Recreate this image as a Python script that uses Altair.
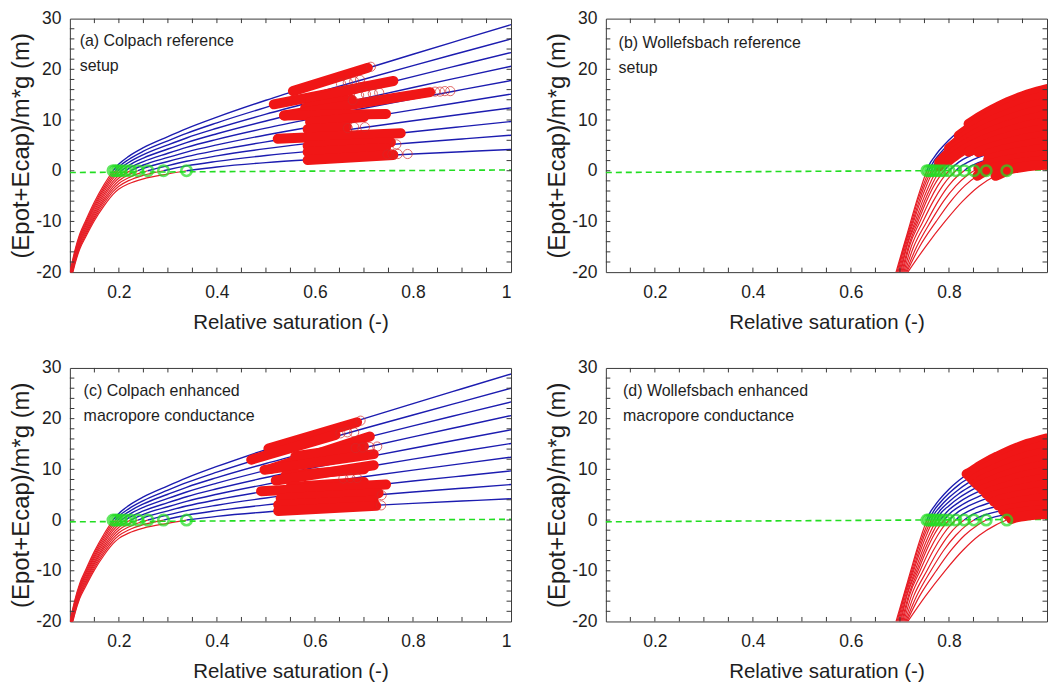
import altair as alt
import pandas as pd

# ---------------- Colpach: energy state curves (m) vs relative saturation ----------------
COL_S = [0.100, 0.105, 0.110, 0.120, 0.133, 0.150, 0.170, 0.188, 0.200, 0.220,
         0.250, 0.300, 0.338, 0.400, 0.500, 0.600, 0.700, 0.800, 0.900, 1.000]
COL_1 = [-22.48, -20.46, -18.54, -15.5, -12.94, -9.87, -6.89, -4.66, -3.61, -2.58, -1.6, -0.64, 0.0, 0.73, 1.6, 2.24, 2.79, 3.29, 3.75, 4.2]
COL_2 = [-22.2, -20.17, -18.23, -15.16, -12.57, -9.45, -6.41, -4.13, -3.05, -1.96, -0.9, 0.2, 0.95, 1.85, 3.0, 3.92, 4.75, 5.53, 6.27, 7.0]
COL_3 = [-21.93, -19.88, -17.93, -14.84, -12.21, -9.05, -5.95, -3.63, -2.51, -1.37, -0.23, 1.01, 1.86, 2.93, 4.35, 5.54, 6.64, 7.69, 8.7, 9.7]
COL_4 = [-21.66, -19.6, -17.64, -14.51, -11.85, -8.64, -5.49, -3.12, -1.97, -0.77, 0.45, 1.82, 2.77, 4.01, 5.7, 7.16, 8.53, 9.85, 11.13, 12.4]
COL_5 = [-21.39, -19.31, -17.34, -14.19, -11.49, -8.24, -5.03, -2.61, -1.43, -0.18, 1.13, 2.63, 3.68, 5.09, 7.05, 8.78, 10.42, 12.01, 13.56, 15.1]
COL_6 = [-21.12, -19.03, -17.04, -13.86, -11.13, -7.83, -4.57, -2.1, -0.89, 0.42, 1.8, 3.44, 4.6, 6.17, 8.4, 10.4, 12.31, 14.17, 15.99, 17.8]
COL_7 = [-20.84, -18.74, -16.73, -13.53, -10.76, -7.41, -4.1, -1.58, -0.33, 1.03, 2.5, 4.28, 5.54, 7.29, 9.8, 12.08, 14.27, 16.41, 18.51, 20.6]
COL_8 = [-20.57, -18.45, -16.44, -13.2, -10.4, -7.01, -3.64, -1.07, 0.21, 1.63, 3.18, 5.09, 6.46, 8.37, 11.15, 13.7, 16.16, 18.57, 20.94, 23.3]
COL_9 = [-20.3, -18.17, -16.14, -12.88, -10.04, -6.6, -3.18, -0.56, 0.75, 2.22, 3.85, 5.9, 7.37, 9.45, 12.5, 15.32, 18.05, 20.73, 23.37, 26.0]
COL_10 = [-20.02, -17.88, -15.83, -12.54, -9.67, -6.18, -2.7, -0.04, 1.31, 2.84, 4.55, 6.74, 8.31, 10.57, 13.9, 17.0, 20.01, 22.97, 25.89, 28.8]
# saturation where each Colpach curve crosses zero (green circles)
COL_ZERO = [0.338, 0.291, 0.259, 0.239, 0.224, 0.214, 0.205, 0.198, 0.193, 0.188]

# ---------------- Wollefsbach: energy state curves ----------------
# negative branch: saturation reached at fixed energy levels
WOL_RED_Y = [-20, -15, -10, -6, -3, -1]
WR_1 = [0.692, 0.707, 0.722, 0.734, 0.744, 0.751]
WR_2 = [0.694, 0.708, 0.724, 0.736, 0.747, 0.755]
WR_3 = [0.696, 0.709, 0.726, 0.739, 0.750, 0.759]
WR_4 = [0.698, 0.711, 0.728, 0.742, 0.754, 0.763]
WR_5 = [0.700, 0.713, 0.731, 0.746, 0.759, 0.769]
WR_6 = [0.702, 0.714, 0.734, 0.750, 0.764, 0.775]
WR_7 = [0.704, 0.717, 0.737, 0.754, 0.769, 0.782]
WR_8 = [0.706, 0.719, 0.741, 0.760, 0.777, 0.791]
WR_9 = [0.708, 0.723, 0.747, 0.768, 0.787, 0.803]
WR_10 = [0.710, 0.728, 0.755, 0.778, 0.799, 0.818]
WR_11 = [0.712, 0.734, 0.763, 0.789, 0.814, 0.836]
WR_12 = [0.714, 0.740, 0.774, 0.804, 0.832, 0.858]
WR_13 = [0.716, 0.752, 0.792, 0.828, 0.862, 0.895]
# zero crossings (green circles)
WOL_ZERO = [0.755, 0.759, 0.764, 0.769, 0.775, 0.782, 0.790, 0.800, 0.814, 0.831, 0.851, 0.876, 0.918]
# positive branch: energy on a saturation grid (None before the crossing)
WOL_BLUE_S = [0.76, 0.77, 0.78, 0.80, 0.82, 0.84, 0.86, 0.88, 0.90, 0.92, 0.94, 0.96, 0.98, 1.00]
WB_1 = [1.22, 2.7, 3.98, 6.08, 7.79, 9.24, 10.5, 11.62, 12.6, 13.52, 14.33, 15.03, 15.6, 16.1]
WB_2 = [0.23, 1.98, 3.23, 5.27, 6.94, 8.29, 9.5, 10.58, 11.51, 12.39, 13.13, 13.79, 14.34, 14.8]
WB_3 = [None, 1.19, 2.44, 4.43, 6.04, 7.37, 8.52, 9.53, 10.42, 11.23, 11.95, 12.56, 13.07, 13.5]
WB_4 = [None, 0.2, 1.68, 3.63, 5.2, 6.45, 7.54, 8.5, 9.33, 10.09, 10.75, 11.32, 11.8, 12.2]
WB_5 = [None, None, 0.88, 2.84, 4.35, 5.55, 6.57, 7.47, 8.25, 8.94, 9.56, 10.08, 10.53, 10.9]
WB_6 = [None, None, None, 2.01, 3.48, 4.66, 5.6, 6.43, 7.15, 7.8, 8.37, 8.85, 9.26, 9.6]
WB_7 = [None, None, None, 1.15, 2.6, 3.73, 4.62, 5.41, 6.08, 6.66, 7.18, 7.63, 7.99, 8.3]
WB_8 = [None, None, None, None, 1.7, 2.79, 3.65, 4.37, 4.99, 5.52, 5.99, 6.4, 6.73, 7.0]
WB_9 = [None, None, None, None, 0.59, 1.75, 2.63, 3.31, 3.88, 4.37, 4.8, 5.16, 5.46, 5.7]
WB_10 = [None, None, None, None, None, 0.66, 1.58, 2.25, 2.78, 3.23, 3.61, 3.91, 4.19, 4.4]
WB_11 = [None, None, None, None, None, None, 0.51, 1.22, 1.71, 2.11, 2.44, 2.72, 2.93, 3.1]
WB_12 = [None, None, None, None, None, None, None, 0.21, 0.78, 1.16, 1.46, 1.68, 1.87, 2.0]
WB_13 = [None, None, None, None, None, None, None, None, None, 0.1, 0.59, 0.87, 1.07, 1.2]

# ---------------- simulated states (red circles) ----------------
# Colpach reference: dense runs of states (start/end saturation and energy)
A_RUN_S0 = [0.555, 0.516, 0.590, 0.580, 0.537, 0.537, 0.590, 0.585, 0.524, 0.585, 0.585, 0.585]
A_RUN_Y0 = [15.7, 13.1, 13.8, 12.4, 10.9, 10.9, 9.6, 8.2, 6.3, 4.9, 3.7, 2.1]
A_RUN_S1 = [0.708, 0.760, 0.700, 0.675, 0.835, 0.745, 0.700, 0.665, 0.775, 0.755, 0.745, 0.760]
A_RUN_Y1 = [20.3, 17.7, 16.6, 14.0, 15.5, 11.2, 10.6, 8.7, 7.4, 5.6, 4.5, 3.1]
A_DOT_S = [0.714, 0.653, 0.667, 0.680, 0.692, 0.677, 0.690, 0.704, 0.718, 0.731, 0.845,
           0.855, 0.865, 0.876, 0.667, 0.680, 0.702, 0.766, 0.748, 0.758, 0.769, 0.789]
A_DOT_Y = [20.5, 17.2, 17.4, 17.6, 17.9, 13.9, 14.9, 15.1, 15.2, 15.4, 15.6,
           15.6, 15.7, 15.7, 8.4, 8.6, 8.6, 5.2, 3.2, 3.3, 3.3, 3.3]
# Colpach enhanced macropore conductance
C_RUN_S0 = [0.505, 0.470, 0.510, 0.560, 0.497, 0.540, 0.520, 0.550, 0.490, 0.530, 0.525, 0.525]
C_RUN_Y0 = [14.1, 11.9, 10.1, 12.6, 9.9, 8.8, 7.8, 6.5, 5.7, 4.3, 3.0, 1.8]
C_RUN_S1 = [0.686, 0.642, 0.712, 0.700, 0.720, 0.700, 0.720, 0.700, 0.745, 0.730, 0.720, 0.725]
C_RUN_Y1 = [19.3, 16.8, 16.5, 14.5, 13.0, 10.0, 10.8, 7.5, 7.0, 5.3, 3.8, 2.8]
C_DOT_S = [0.693, 0.652, 0.666, 0.680, 0.683, 0.697, 0.712, 0.727, 0.658, 0.672, 0.686, 0.736, 0.735]
C_DOT_Y = [19.6, 17.1, 17.3, 17.3, 14.2, 14.3, 14.4, 14.5, 8.2, 8.3, 8.3, 4.9, 2.9]
# Wollefsbach: first state of each curve's run; the run then follows the curve to saturation
B_RUN_S = [0.84, 0.82, 0.80, 0.78, 0.78, 0.80, 0.84, 0.86, 0.88, 0.88, 0.86, 0.858, 0.895]
B_RUN_Y = [9.24, 6.94, 4.43, 1.68, 0.88, 2.01, 3.73, 3.65, 3.31, 2.25, 0.51, -1.0, -1.0]
D_RUN_S = [0.836, 0.843, 0.849, 0.855, 0.861, 0.868, 0.876, 0.883, 0.892, 0.900, 0.910, 0.918, 0.927]
D_RUN_Y = [9.1, 8.4, 7.8, 7.2, 6.7, 6.0, 5.2, 4.5, 3.6, 2.9, 1.9, 1.1, 0.2]

# zero reference (green dashed)
ZERO_LINE_S = [0.1, 1.0]
ZERO_LINE_Y = [-0.35, 0.15]

# axis ticks
X_LABELS_FULL = [0.2, 0.4, 0.6, 0.8, 1.0]
X_LABELS_CUT = [0.2, 0.4, 0.6, 0.8]
Y_LABELS = [-20, -10, 0, 10, 20, 30]
X_TICKS = [0.15, 0.2, 0.25, 0.3, 0.35, 0.4, 0.45, 0.5, 0.55, 0.6, 0.65, 0.7, 0.75, 0.8, 0.85, 0.9, 0.95]
Y_TICKS = [-18, -16, -14, -12, -10, -8, -6, -4, -2, 0, 2, 4, 6, 8, 10, 12, 14, 16, 18, 20, 22, 24, 26, 28]

PANEL_TEXT = [
    ("(a) Colpach reference", "setup", 0.120, 25.5),
    ("(b) Wollefsbach reference", "setup", 0.126, 25.2),
    ("(c) Colpach enhanced", "macropore conductance", 0.128, 25.5),
    ("(d) Wollefsbach enhanced", "macropore conductance", 0.135, 25.4),
]

# ---------------- styling ----------------
W, H = 442, 254
TICK_LEN = 4.5
FONT = "Liberation Sans, Arial, Helvetica, sans-serif"
BLUE = "#1c1cb0"
RED_LINE = "#e61e26"
RED = "#f01616"
GREEN = "#22dd22"
FRAME = "#3a3a3a"
INK = "#1e1e1e"

XS = alt.Scale(domain=[0.1, 1.0], nice=False, zero=False)
YS = alt.Scale(domain=[-20, 30], nice=False, zero=False)


def colpach_branches(grid, curves, zeros):
    red_rows, blue_rows = [], []
    for k, (ys, s0) in enumerate(zip(curves, zeros)):
        red_rows += [{"c": k, "s": s, "y": y} for s, y in zip(grid, ys) if s < s0]
        blue_rows += [{"c": k, "s": s, "y": y} for s, y in zip(grid, ys) if s > s0]
        red_rows.append({"c": k, "s": s0, "y": 0.0})
        blue_rows.append({"c": k, "s": s0, "y": 0.0})
    return pd.DataFrame(red_rows), pd.DataFrame(blue_rows)


def wollefsbach_curves(red_s, blue_y, zeros):
    red_rows, blue_rows, full = [], [], []
    for k, (rs, by, s0) in enumerate(zip(red_s, blue_y, zeros)):
        neg = [(s, y) for s, y in zip(rs, WOL_RED_Y)] + [(s0, 0.0)]
        pos = [(s0, 0.0)] + [(s, y) for s, y in zip(WOL_BLUE_S, by) if y is not None]
        red_rows += [{"c": k, "s": s, "y": y} for s, y in neg]
        blue_rows += [{"c": k, "s": s, "y": y} for s, y in pos]
        full.append(neg + pos[1:])
    return pd.DataFrame(red_rows), pd.DataFrame(blue_rows), full


def straight_runs(s0, y0, s1, y1):
    rows = []
    for k in range(len(s0)):
        rows.append({"b": k, "s": s0[k], "y": y0[k]})
        rows.append({"b": k, "s": s1[k], "y": y1[k]})
    return pd.DataFrame(rows)


def curve_runs(full, start_s, start_y):
    rows = []
    for k, (pts, s_a, y_a) in enumerate(zip(full, start_s, start_y)):
        rows.append({"b": k, "s": s_a, "y": y_a})
        rows += [{"b": k, "s": s, "y": y} for s, y in pts if s > s_a]
    return pd.DataFrame(rows)


def panel(red, blue, runs, runs_curved, dots, zeros, text, x_labels):
    x_axis = alt.Axis(values=x_labels, labelExpr="toString(datum.value)",
                      title="Relative saturation (-)", titleFontSize=20.5)
    y_axis = alt.Axis(values=Y_LABELS, labelExpr="toString(datum.value)",
                      title="(Epot+Ecap)/m*g (m)", titleFontSize=24)
    X = alt.X("s:Q", scale=XS, axis=x_axis)
    Y = alt.Y("y:Q", scale=YS, axis=y_axis)

    red_l = alt.Chart(red).mark_line(color=RED_LINE, strokeWidth=1.2, clip=True,
                                     interpolate="monotone").encode(X, Y, detail="c:N")
    blue_l = alt.Chart(blue).mark_line(color=BLUE, strokeWidth=1.4, clip=True,
                                       interpolate="monotone").encode(X, Y, detail="c:N")
    zero_df = pd.DataFrame({"s": ZERO_LINE_S, "y": ZERO_LINE_Y})
    dashed = alt.Chart(zero_df).mark_line(color=GREEN, strokeWidth=1.6,
                                          strokeDash=[6, 4]).encode(X, Y)
    run_l = alt.Chart(runs).mark_line(
        color=RED, strokeWidth=10, strokeCap="round", clip=True,
        interpolate="monotone" if runs_curved else "linear").encode(X, Y, detail="b:N")
    layers = [red_l, blue_l, dashed, run_l]
    if dots is not None:
        layers.append(alt.Chart(dots).mark_point(shape="circle", filled=False, size=85,
                                                 color="#d42a2a", strokeWidth=1, clip=True)
                      .encode(X, Y))
    zdf = pd.DataFrame({"s": zeros, "y": [0.0] * len(zeros)})
    layers.append(alt.Chart(zdf).mark_point(shape="circle", filled=False, size=110,
                                            color=GREEN, strokeWidth=2.6).encode(X, Y))

    xt = pd.DataFrame({"s": X_TICKS})
    yt = pd.DataFrame({"y": Y_TICKS})
    rule = dict(color=FRAME, strokeWidth=1)
    layers += [
        alt.Chart(xt).mark_rule(**rule).encode(X, y=alt.value(H), y2=alt.value(H - TICK_LEN)),
        alt.Chart(xt).mark_rule(**rule).encode(X, y=alt.value(0), y2=alt.value(TICK_LEN)),
        alt.Chart(yt).mark_rule(**rule).encode(Y, x=alt.value(0), x2=alt.value(TICK_LEN)),
        alt.Chart(yt).mark_rule(**rule).encode(Y, x=alt.value(W), x2=alt.value(W - TICK_LEN)),
    ]
    l1, l2, ts, ty = text
    tdf = pd.DataFrame({"s": [ts, ts], "y": [ty, ty - 4.9], "t": [l1, l2]})
    layers.append(alt.Chart(tdf).mark_text(align="left", baseline="middle", font=FONT,
                                           fontSize=16, color=INK)
                  .encode(X, Y, text="t:N"))
    return alt.layer(*layers).properties(width=W, height=H)


col_curves = [COL_1, COL_2, COL_3, COL_4, COL_5, COL_6, COL_7, COL_8, COL_9, COL_10]
wol_red_s = [WR_1, WR_2, WR_3, WR_4, WR_5, WR_6, WR_7, WR_8, WR_9, WR_10, WR_11, WR_12, WR_13]
wol_blue_y = [WB_1, WB_2, WB_3, WB_4, WB_5, WB_6, WB_7, WB_8, WB_9, WB_10, WB_11, WB_12, WB_13]
col_red, col_blue = colpach_branches(COL_S, col_curves, COL_ZERO)
wol_red, wol_blue, wol_full = wollefsbach_curves(wol_red_s, wol_blue_y, WOL_ZERO)

pa = panel(col_red, col_blue, straight_runs(A_RUN_S0, A_RUN_Y0, A_RUN_S1, A_RUN_Y1), False,
           pd.DataFrame({"s": A_DOT_S, "y": A_DOT_Y}), COL_ZERO, PANEL_TEXT[0], X_LABELS_FULL)
pb = panel(wol_red, wol_blue, curve_runs(wol_full, B_RUN_S, B_RUN_Y), True,
           None, WOL_ZERO, PANEL_TEXT[1], X_LABELS_CUT)
pc = panel(col_red, col_blue, straight_runs(C_RUN_S0, C_RUN_Y0, C_RUN_S1, C_RUN_Y1), False,
           pd.DataFrame({"s": C_DOT_S, "y": C_DOT_Y}), COL_ZERO, PANEL_TEXT[2], X_LABELS_FULL)
pd_ = panel(wol_red, wol_blue, curve_runs(wol_full, D_RUN_S, D_RUN_Y), True,
            None, WOL_ZERO, PANEL_TEXT[3], X_LABELS_CUT)

chart = (
    alt.vconcat(alt.hconcat(pa, pb, spacing=30), alt.hconcat(pc, pd_, spacing=30), spacing=25)
    .properties(padding={"left": 9, "top": 8, "right": 0, "bottom": 0}, background="white")
    .configure_view(stroke=FRAME, strokeWidth=1)
    .configure_axis(domain=False, ticks=False, grid=False, labelFont=FONT, labelFontSize=17.5,
                    titleFont=FONT, labelColor=INK, titleColor=INK, titleFontWeight="normal")
    .configure_axisX(labelPadding=11.5, titlePadding=11)
    .configure_axisY(labelPadding=9, titlePadding=2)
)
chart.save("out.html", embed_options={"renderer": "svg", "actions": False})
